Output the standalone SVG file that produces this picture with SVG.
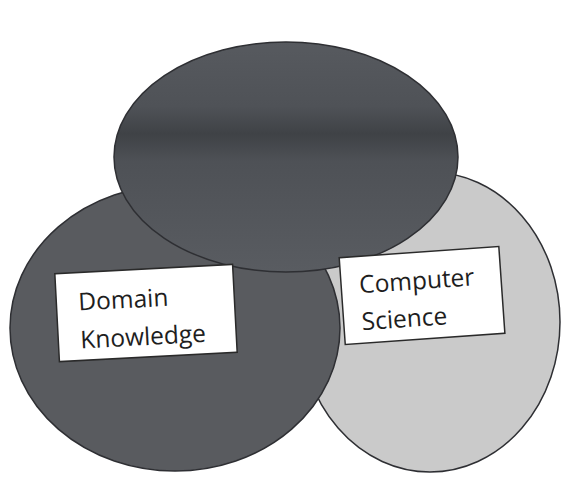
<svg xmlns="http://www.w3.org/2000/svg" width="561" height="479" viewBox="0 0 561 479">
  <style>
    .circle { stroke: #2e2f33; stroke-width: 1.5; }
    .box { fill: #ffffff; stroke: #2a2a2a; stroke-width: 1.5; }
    .label { font-family: "Open Sans", "Liberation Sans", sans-serif; font-size: 24.5px; fill: #1e1e1e; }
  </style>
  <defs>
    <linearGradient id="topShade" x1="0" y1="0" x2="0" y2="1">
      <stop offset="0" stop-color="#575a5f"/>
      <stop offset="0.28" stop-color="#4f5257"/>
      <stop offset="0.40" stop-color="#3f4246"/>
      <stop offset="0.52" stop-color="#4e5156"/>
      <stop offset="1" stop-color="#595c61"/>
    </linearGradient>
  </defs>
  <rect width="561" height="479" fill="#ffffff"/>
  <g id="computer-science">
    <ellipse class="circle" cx="430" cy="322" rx="130" ry="150" fill="#cacaca"/>
  </g>
  <g id="domain-knowledge">
    <ellipse class="circle" cx="175" cy="328" rx="165" ry="143" fill="#595b5f"/>
  </g>
  <g id="top-set">
    <ellipse class="circle" cx="286" cy="157" rx="172" ry="115" fill="url(#topShade)"/>
  </g>
  <g id="connectors"></g>
  <g id="label-domain" transform="rotate(-3 146 313)">
    <rect class="box" x="57" y="269" width="178" height="88"/>
    <text class="label" x="79" y="307">Domain</text>
    <text class="label" x="79" y="345">Knowledge</text>
  </g>
  <g id="label-computer" transform="rotate(-4 422 295)">
    <rect class="box" x="342" y="252" width="160" height="87"/>
    <text class="label" x="360" y="289">Computer</text>
    <text class="label" x="360" y="326">Science</text>
  </g>
</svg>
